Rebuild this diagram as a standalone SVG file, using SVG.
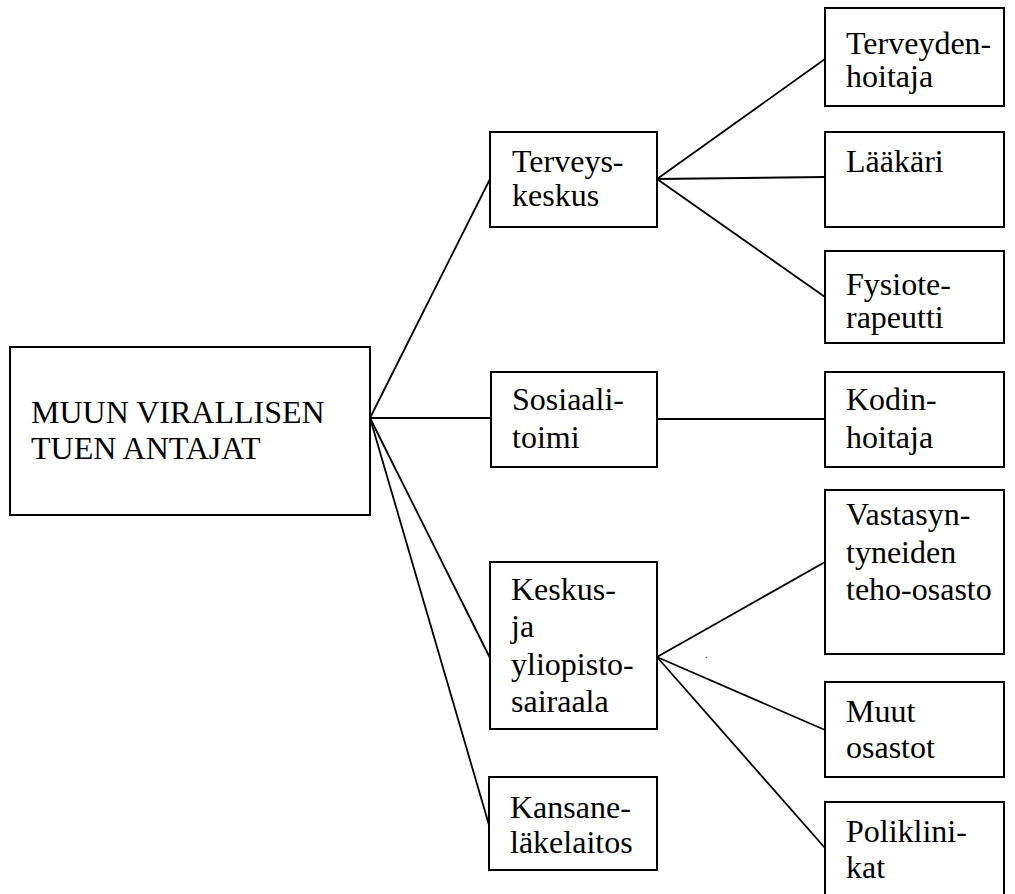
<svg xmlns="http://www.w3.org/2000/svg" width="1015" height="894" viewBox="0 0 1015 894">
  <style>
    .box { fill: #ffffff; stroke: #000000; stroke-width: 2; }
    .link { stroke: #000000; stroke-width: 1.8; fill: none; }
    .lbl { font-size: 32px; fill: #000000; }
  </style>
  <rect width="1015" height="894" fill="#ffffff"/>

  <!-- connectors -->
  <g id="connectors">
    <line class="link" x1="370" y1="418" x2="490" y2="179"/>
    <line class="link" x1="370" y1="418" x2="491" y2="418"/>
    <line class="link" x1="370" y1="418" x2="490" y2="658"/>
    <line class="link" x1="370" y1="418" x2="489" y2="825"/>
    <line class="link" x1="657" y1="179" x2="825" y2="59"/>
    <line class="link" x1="657" y1="179" x2="825" y2="177"/>
    <line class="link" x1="657" y1="179" x2="825" y2="297"/>
    <line class="link" x1="657" y1="419" x2="825" y2="419"/>
    <line class="link" x1="657" y1="657" x2="825" y2="562"/>
    <line class="link" x1="657" y1="657" x2="825" y2="730"/>
    <line class="link" x1="657" y1="657" x2="825" y2="848"/>
  </g>

  <g class="lbl" font-family="Liberation Serif, Tinos, Times, Noto Serif, DejaVu Serif, serif">
  <!-- root -->
  <g id="root">
    <rect class="box" x="10" y="347" width="360" height="168"/>
    <text x="31" y="423">MUUN VIRALLISEN</text>
    <text x="31" y="459">TUEN ANTAJAT</text>
  </g>

  <!-- middle column -->
  <g id="terveyskeskus">
    <rect class="box" x="490" y="132" width="167" height="95"/>
    <text x="512" y="172">Terveys-</text>
    <text x="512" y="206">keskus</text>
  </g>
  <g id="sosiaalitoimi">
    <rect class="box" x="491" y="372" width="166" height="95"/>
    <text x="512" y="410">Sosiaali-</text>
    <text x="512" y="448">toimi</text>
  </g>
  <g id="sairaala">
    <rect class="box" x="490" y="562" width="167" height="167"/>
    <text x="511" y="600">Keskus-</text>
    <text x="511" y="637">ja</text>
    <text x="511" y="675">yliopisto-</text>
    <text x="511" y="712">sairaala</text>
  </g>
  <g id="kansanelakelaitos">
    <rect class="box" x="489" y="777" width="168" height="93"/>
    <text x="510" y="818">Kansane-</text>
    <text x="510" y="853">läkelaitos</text>
  </g>

  <!-- right column -->
  <g id="terveydenhoitaja">
    <rect class="box" x="825" y="8" width="179" height="98"/>
    <text x="846" y="54">Terveyden-</text>
    <text x="846" y="87">hoitaja</text>
  </g>
  <g id="laakari">
    <rect class="box" x="825" y="132" width="179" height="95"/>
    <text x="846" y="172">Lääkäri</text>
  </g>
  <g id="fysioterapeutti">
    <rect class="box" x="825" y="251" width="179" height="92"/>
    <text x="846" y="295">Fysiote-</text>
    <text x="846" y="328">rapeutti</text>
  </g>
  <g id="kodinhoitaja">
    <rect class="box" x="825" y="372" width="179" height="95"/>
    <text x="846" y="410">Kodin-</text>
    <text x="846" y="448">hoitaja</text>
  </g>
  <g id="vastasyntyneet">
    <rect class="box" x="825" y="490" width="179" height="164"/>
    <text x="846" y="525">Vastasyn-</text>
    <text x="846" y="563">tyneiden</text>
    <text x="846" y="600">teho-osasto</text>
  </g>
  <g id="muut-osastot">
    <rect class="box" x="825" y="682" width="179" height="95"/>
    <text x="846" y="722">Muut</text>
    <text x="846" y="758">osastot</text>
  </g>
  <g id="poliklinikat">
    <rect class="box" x="825" y="802" width="179" height="100"/>
    <text x="846" y="842">Poliklini-</text>
    <text x="846" y="878">kat</text>
  </g>

  <!-- stray full stop beside the hospital fan -->
  <text x="705" y="658" font-size="10">.</text>
  </g>
</svg>
